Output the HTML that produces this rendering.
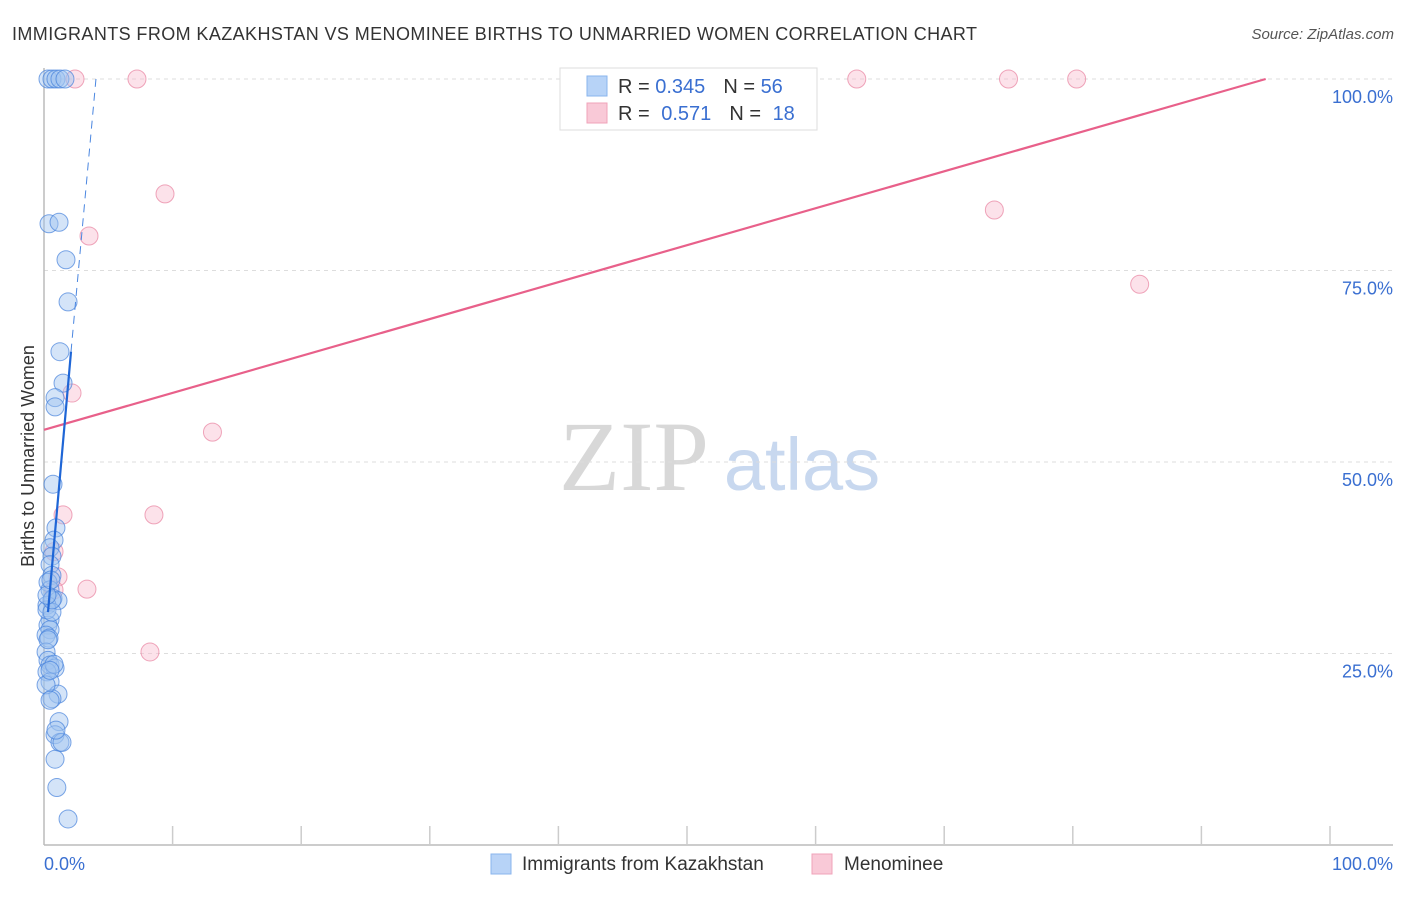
<!DOCTYPE html>
<html><head><meta charset="utf-8"><style>
body{margin:0;background:#fff;width:1406px;height:892px;overflow:hidden;font-family:"Liberation Sans",sans-serif}
</style></head><body>
<svg id="chart" width="1406" height="892" xmlns="http://www.w3.org/2000/svg" style="font-family:'Liberation Sans',sans-serif">
<text x="12" y="40" font-size="18" fill="#333" textLength="965" lengthAdjust="spacing">IMMIGRANTS FROM KAZAKHSTAN VS MENOMINEE BIRTHS TO UNMARRIED WOMEN CORRELATION CHART</text>
<text x="1394" y="39" font-size="15" fill="#555" font-style="italic" text-anchor="end">Source: ZipAtlas.com</text>
<g>
<text x="634" y="490" font-size="100" fill="#d8d8d8" font-family="Liberation Serif,serif" text-anchor="middle">ZIP</text>
<text x="802" y="490" font-size="74" fill="#c8d8ef" text-anchor="middle">atlas</text>
</g>
<g id="grid"></g>
<g id="axes"></g>
<g id="marks"></g>
<text transform="translate(34,456) rotate(-90)" font-size="18" fill="#333" text-anchor="middle">Births to Unmarried Women</text>
<g>
<rect x="560" y="68" width="257" height="62" fill="#fff" stroke="#ddd"/>
<rect x="587" y="76" width="20" height="20" fill="#b7d3f7" stroke="#8ab4ee"/>
<rect x="587" y="103" width="20" height="20" fill="#f9c9d7" stroke="#f0a3ba"/>
<text x="618" y="93" font-size="20" fill="#333">R = <tspan fill="#3a6fd1">0.345</tspan><tspan dx="18">N = </tspan><tspan fill="#3a6fd1">56</tspan></text>
<text x="618" y="120" font-size="20" fill="#333">R = <tspan dx="6" fill="#3a6fd1">0.571</tspan><tspan dx="18">N = </tspan><tspan dx="6" fill="#3a6fd1">18</tspan></text>
</g>
<g>
<rect x="491" y="854" width="20" height="20" fill="#b7d3f7" stroke="#8ab4ee"/>
<text x="522" y="870" font-size="19" fill="#333">Immigrants from Kazakhstan</text>
<rect x="812" y="854" width="20" height="20" fill="#f9c9d7" stroke="#f0a3ba"/>
<text x="844" y="870" font-size="19" fill="#333">Menominee</text>
</g>
</svg>
<script>
const blueX=[0.31,0.62,0.93,1.24,1.63,0.39,1.17,1.71,1.87,1.24,1.48,0.86,0.86,0.7,0.93,0.78,0.47,0.62,0.47,0.62,0.31,0.47,0.7,1.09,0.23,0.47,0.31,0.47,0.16,0.39,0.16,0.31,0.47,0.86,0.23,0.47,1.09,0.62,1.17,0.86,1.24,1.4,0.86,1.0,1.87,0.23,0.62,0.31,0.78,0.16,0.47,0.93,0.47,0.62,0.23,0.54];
const blueY=[100,100,100,100,100,81.1,81.3,76.4,70.9,64.4,60.3,58.4,57.2,47.1,41.4,39.8,38.8,37.7,36.6,35.2,34.3,33.3,32.2,31.9,31.3,29.4,28.7,28.1,27.4,27.0,25.2,24.1,23.5,23.1,22.6,21.3,19.7,19.1,16.1,14.4,13.4,13.4,11.2,7.5,3.4,30.7,30.4,26.8,23.6,20.9,18.9,15.0,22.8,32.0,32.6,34.6];
const pinkX=[2.41,7.23,63.2,75.0,80.3,9.41,3.5,73.9,85.2,2.18,13.1,1.48,8.55,0.78,1.09,0.78,3.34,8.24];
const pinkY=[100,100,100,100,100,85.0,79.5,82.9,73.2,59.0,53.9,43.1,43.1,38.3,35.0,33.3,33.4,25.2];
const pinkTrend={x:[0,95],y:[54.2,100]};
const blueTrendSolid={x:[0.31,2.1],y:[30.4,64.4]};
const blueTrendDash={x:[2.1,4.04],y:[64.4,100]};
const yTicks=[25,50,75,100];
const yTickLabels=["25.0%","50.0%","75.0%","100.0%"];
const xTickVals=[0,10,20,30,40,50,60,70,80,90,100];
const xLabels=["0.0%","100.0%"];

const X0=44,X1=1330,Y0=845,Y100=79;
const sx=v=>X0+(X1-X0)*v/100;
const sy=v=>Y0-(Y0-Y100)*v/100;
const NS="http://www.w3.org/2000/svg";
function mk(tag,attrs,parent){const e=document.createElementNS(NS,tag);for(const k in attrs)e.setAttribute(k,attrs[k]);parent.appendChild(e);return e;}
const grid=document.getElementById('grid'),axes=document.getElementById('axes'),marks=document.getElementById('marks');
yTicks.forEach((t,i)=>{
 const l=mk('line',{x1:X0,x2:1393,y1:sy(t),y2:sy(t),stroke:'#ddd','stroke-dasharray':'4,4'},grid);
 
 
 const tx=mk('text',{x:1393,y:sy(t)+24,'font-size':18,fill:'#3a6fd1','text-anchor':'end'},axes);
 tx.textContent=yTickLabels[i];
 
 
});
const ax=mk('line',{x1:X0,x2:X0,y1:68,y2:Y0,stroke:'#bbb','stroke-width':1.5},axes);


const bx=mk('line',{x1:X0,x2:1393,y1:Y0,y2:Y0,stroke:'#bbb','stroke-width':1.5},axes);


xTickVals.forEach(v=>{if(v===0)return;
 const t=mk('line',{x1:sx(v),x2:sx(v),y1:826,y2:Y0,stroke:'#ccc','stroke-width':1.5},axes);
 
 
});
const xl0=mk('text',{x:44,y:870,'font-size':18,fill:'#3a6fd1'},axes);xl0.textContent=xLabels[0];


const xl1=mk('text',{x:1393,y:870,'font-size':18,fill:'#3a6fd1','text-anchor':'end'},axes);xl1.textContent=xLabels[1];


pinkX.forEach((v,i)=>{
 const c=mk('circle',{cx:sx(v),cy:sy(pinkY[i]),r:9,fill:'rgba(249,190,208,0.45)',stroke:'rgba(232,130,160,0.7)','stroke-width':1},marks);
 
 
});
blueX.forEach((v,i)=>{
 const c=mk('circle',{cx:sx(v),cy:sy(blueY[i]),r:9,fill:'rgba(160,196,240,0.45)',stroke:'rgba(70,130,220,0.7)','stroke-width':1},marks);
 
 
});
const pl=mk('line',{x1:sx(pinkTrend.x[0]),y1:sy(pinkTrend.y[0]),x2:sx(pinkTrend.x[1]),y2:sy(pinkTrend.y[1]),stroke:'#e8608a','stroke-width':2.2},marks);


const bl=mk('line',{x1:sx(blueTrendSolid.x[0]),y1:sy(blueTrendSolid.y[0]),x2:sx(blueTrendSolid.x[1]),y2:sy(blueTrendSolid.y[1]),stroke:'#1f66d6','stroke-width':2.2},marks);


const bd=mk('line',{x1:sx(blueTrendDash.x[0]),y1:sy(blueTrendDash.y[0]),x2:sx(blueTrendDash.x[1]),y2:sy(blueTrendDash.y[1]),stroke:'#4a86e0','stroke-width':1,'stroke-dasharray':'8,6'},marks);


</script>
</body></html>
